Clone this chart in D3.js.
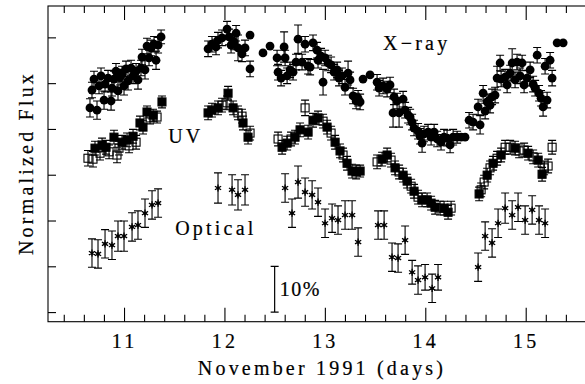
<!DOCTYPE html>
<html>
<head>
<meta charset="utf-8">
<script src="https://cdn.jsdelivr.net/npm/d3@7"></script>
<style>
  html, body { margin: 0; padding: 0; background: #fff; }
  svg { display: block; }
  text { font-family: "Liberation Serif", "DejaVu Serif", serif; fill: #000; }
</style>
</head>
<body>
<svg id="chart" width="585" height="384"></svg>
<script>
// X-ray light curve: [day, normalized flux, 1-sigma error] (error 0 = no bar)
const xray = [
  [10.661,1.146,0.020],[10.681,1.185,0.017],[10.701,1.209,0.017],[10.731,1.141,0.020],
  [10.751,1.194,0.017],[10.771,1.216,0.017],[10.801,1.163,0.020],[10.811,1.198,0.017],
  [10.841,1.211,0.017],[10.871,1.161,0.020],[10.880,1.189,0.017],[10.900,1.209,0.017],
  [10.920,1.226,0.017],[10.940,1.183,0.020],[10.960,1.213,0.017],[10.980,1.220,0.017],
  [11.000,1.194,0.020],[11.020,1.231,0.017],[11.040,1.205,0.020],[11.070,1.233,0.017],
  [11.090,1.216,0.017],[11.120,1.226,0.017],[11.139,1.207,0.020],[11.169,1.233,0.017],
  [11.179,1.257,0.017],[11.209,1.229,0.020],[11.229,1.281,0.017],[11.249,1.255,0.017],
  [11.269,1.277,0.017],[11.299,1.285,0.017],[11.319,1.250,0.020],[11.339,1.283,0.017],
  [11.369,1.301,0.015],
  [11.837,1.275,0.017],[11.876,1.285,0.017],[11.916,1.279,0.017],[11.936,1.294,0.017],
  [11.976,1.299,0.017],[12.026,1.318,0.017],[12.046,1.301,0.017],[12.066,1.283,0.017],
  [12.096,1.290,0.017],[12.116,1.309,0.017],[12.135,1.277,0.028],[12.175,1.264,0.017],
  [12.205,1.277,0.017],[12.255,1.305,0],[12.255,1.231,0.017],[12.384,1.266,0],[12.454,1.281,0],
  [12.524,1.255,0.017],[12.534,1.224,0.017],[12.564,1.211,0.017],[12.594,1.279,0.033],
  [12.604,1.255,0.017],[12.624,1.216,0.017],[12.653,1.229,0.017],[12.683,1.224,0.017],
  [12.713,1.246,0.017],[12.733,1.296,0.031],[12.773,1.246,0.017],[12.803,1.285,0.017],
  [12.833,1.237,0.017],[12.853,1.235,0.017],[12.882,1.288,0.017],[12.922,1.272,0.017],
  [12.932,1.250,0.017],[12.962,1.259,0.017],[12.982,1.202,0.028],[13.002,1.255,0.017],
  [13.032,1.244,0.017],[13.062,1.240,0.017],[13.092,1.224,0.017],[13.122,1.229,0.017],
  [13.141,1.211,0.017],[13.171,1.216,0.017],[13.201,1.191,0.017],[13.231,1.222,0.026],
  [13.251,1.207,0.017],[13.281,1.172,0.017],[13.311,1.161,0.017],[13.331,1.167,0.017],
  [13.351,1.159,0.017],[13.380,1.209,0],[13.450,1.218,0],
  [13.520,1.202,0.017],[13.540,1.189,0.017],[13.580,1.194,0.017],[13.620,1.187,0.017],
  [13.649,1.196,0.017],[13.679,1.135,0.031],[13.689,1.170,0.017],[13.719,1.161,0.017],
  [13.739,1.135,0.031],[13.779,1.165,0.017],[13.799,1.141,0.017],[13.829,1.130,0.017],
  [13.849,1.126,0.017],[13.869,1.115,0.017],[13.888,1.102,0.017],[13.928,1.095,0.017],
  [13.948,1.084,0.017],[13.968,1.069,0.020],[13.988,1.089,0.017],[14.028,1.093,0.017],
  [14.058,1.082,0.017],[14.088,1.093,0.017],[14.118,1.078,0.017],[14.157,1.071,0.017],
  [14.187,1.082,0.017],[14.217,1.080,0.017],[14.247,1.065,0.017],[14.277,1.082,0.017],
  [14.317,1.082,0.013],[14.357,1.082,0],[14.396,1.082,0],
  [14.436,1.119,0.017],[14.476,1.115,0.017],[14.526,1.148,0.017],[14.546,1.109,0.020],
  [14.576,1.178,0.017],[14.596,1.139,0.017],[14.616,1.159,0.017],[14.645,1.152,0.017],
  [14.665,1.170,0.017],[14.695,1.174,0.017],[14.715,1.211,0.026],[14.745,1.244,0.017],
  [14.755,1.209,0.017],[14.795,1.213,0.017],[14.815,1.196,0.017],[14.845,1.222,0.017],
  [14.865,1.244,0.031],[14.894,1.207,0.017],[14.914,1.246,0.017],[14.944,1.216,0.017],
  [14.964,1.244,0.017],[14.984,1.196,0.017],[15.014,1.211,0.017],[15.044,1.229,0.017],
  [15.074,1.198,0.017],[15.094,1.189,0.017],[15.114,1.261,0.017],[15.133,1.178,0.017],
  [15.153,1.167,0.017],[15.173,1.148,0.020],[15.193,1.237,0.017],[15.213,1.163,0.017],
  [15.243,1.250,0.017],[15.263,1.211,0.017],[15.313,1.288,0],[15.373,1.288,0]
];

// UV light curve: [day, normalized flux, error, filled (1) / open (0) square]
const uv = [
  [10.641,1.036,0.017,0],[10.691,1.034,0.017,0],[10.711,1.058,0.015,1],[10.761,1.047,0.015,0],
  [10.781,1.065,0.015,1],[10.821,1.060,0.015,1],[10.851,1.050,0.015,0],[10.900,1.082,0.015,1],
  [10.930,1.043,0.017,0],[10.950,1.058,0.015,0],[10.980,1.071,0.015,1],[11.030,1.076,0.015,1],
  [11.050,1.063,0.015,0],[11.090,1.084,0.015,1],[11.120,1.071,0.015,0],[11.159,1.113,0.015,1],
  [11.189,1.104,0.015,1],[11.229,1.137,0.013,1],[11.259,1.124,0.013,0],[11.289,1.130,0.013,1],
  [11.329,1.126,0.013,0],[11.378,1.159,0.013,1],
  [11.837,1.135,0.015,1],[11.876,1.141,0.015,1],[11.936,1.146,0.015,1],[11.976,1.152,0.015,0],
  [12.026,1.157,0.015,0],[12.036,1.178,0.015,1],[12.086,1.146,0.015,1],[12.135,1.135,0.015,0],
  [12.175,1.128,0.015,0],[12.185,1.113,0.015,1],[12.235,1.082,0.015,1],[12.255,1.091,0.015,0],
  [12.534,1.078,0.015,0],[12.574,1.060,0.015,1],[12.624,1.069,0.015,1],[12.663,1.078,0.015,0],
  [12.703,1.082,0.015,1],[12.753,1.098,0.015,1],[12.803,1.146,0.017,0],[12.833,1.093,0.015,1],
  [12.882,1.119,0.015,1],[12.932,1.124,0.015,1],[12.982,1.117,0.015,0],[13.022,1.104,0.015,1],
  [13.062,1.091,0.015,0],[13.102,1.071,0.015,1],[13.151,1.052,0.015,1],[13.181,1.043,0.015,0],
  [13.221,1.025,0.015,1],[13.271,1.008,0.015,1],[13.311,1.006,0.015,1],[13.351,1.008,0.013,1],
  [13.520,1.028,0.015,0],[13.570,1.034,0.015,1],[13.620,1.043,0.015,1],[13.659,1.032,0.015,0],
  [13.699,1.015,0.015,1],[13.739,1.006,0.015,0],[13.779,0.999,0.015,1],[13.819,0.986,0.015,1],
  [13.859,0.975,0.015,0],[13.888,0.964,0.015,1],[13.928,0.951,0.015,0],[13.968,0.945,0.015,1],
  [14.018,0.945,0.015,1],[14.058,0.938,0.015,1],[14.098,0.929,0.015,1],[14.147,0.927,0.015,0],
  [14.187,0.927,0.015,1],[14.227,0.918,0.015,1],[14.257,0.927,0.015,0],
  [14.536,0.958,0.015,1],[14.556,0.967,0.015,0],[14.586,0.984,0.015,0],[14.616,0.999,0.015,1],
  [14.645,1.015,0.015,0],[14.675,1.025,0.015,1],[14.715,1.036,0.015,0],[14.755,1.043,0.015,1],
  [14.795,1.060,0.015,0],[14.845,1.060,0.015,0],[14.894,1.058,0.015,1],[14.934,1.052,0.015,0],
  [14.984,1.054,0.015,0],[15.024,1.047,0.015,1],[15.074,1.039,0.015,0],[15.124,1.032,0.015,1],
  [15.163,1.001,0.015,1],[15.183,1.015,0.015,0],[15.223,1.019,0.015,0],[15.263,1.060,0.015,0]
];

// Optical light curve: [day, normalized flux, error]
const optical = [
  [10.681,0.829,0.031],[10.741,0.827,0.031],[10.811,0.849,0.031],[10.880,0.846,0.031],
  [10.940,0.866,0.033],[11.000,0.866,0.033],[11.080,0.886,0.031],[11.139,0.890,0.031],
  [11.209,0.916,0.031],[11.279,0.934,0.031],[11.339,0.938,0.031],
  [11.936,0.971,0.033],[12.076,0.967,0.033],[12.135,0.956,0.033],[12.205,0.967,0.033],
  [12.604,0.971,0.031],[12.673,0.916,0.031],[12.733,0.984,0.035],[12.803,0.962,0.031],
  [12.873,0.956,0.031],[12.932,0.940,0.031],[13.002,0.894,0.031],[13.072,0.905,0.031],
  [13.131,0.901,0.031],[13.201,0.912,0.031],[13.271,0.912,0.031],[13.331,0.853,0.031],
  [13.530,0.890,0.031],[13.590,0.890,0.031],[13.669,0.820,0.031],[13.729,0.818,0.031],
  [13.799,0.857,0.031],[13.869,0.787,0.026],[13.928,0.770,0.031],[13.998,0.776,0.028],
  [14.068,0.752,0.031],[14.127,0.776,0.028],
  [14.526,0.798,0.031],[14.596,0.866,0.031],[14.665,0.851,0.031],[14.725,0.894,0.031],
  [14.795,0.927,0.033],[14.865,0.912,0.031],[14.924,0.929,0.031],[14.994,0.901,0.031],
  [15.064,0.923,0.031],[15.133,0.901,0.031],[15.193,0.894,0.031]
];

// Axis ticks
const dayTicks = [11, 12, 13, 14, 15];
const dayTickLabels = ["11", "12", "13", "14", "15"];
const dayMinorTicks = [10.4,10.6,10.8,11.2,11.4,11.6,11.8,12.2,12.4,12.6,12.8,13.2,13.4,13.6,13.8,
                       14.2,14.4,14.6,14.8,15.2,15.4,15.6];
const fluxTicks = [0.7, 0.8, 0.9, 1.0, 1.1, 1.2, 1.3];

// Band labels placed at [day, flux]
const bandNames = ["X\u2212ray", "UV", "Optical"];
const bandLabelDay = [13.58, 11.44, 11.51];
const bandLabelFlux = [1.272, 1.069, 0.868];

// 10% scale bar
const scaleBarDay = 12.5;
const scaleBarFlux = [0.7, 0.8];
const scaleBarText = "10%";

const xTitle = "November 1991 (days)";
const yTitle = "Normalized Flux";

// ---- drawing ----
const svg = d3.select("#chart");
const FONT = '"Liberation Serif", "DejaVu Serif", serif';
const FS = 20, LS = 3.2, TSW = 0.2;

function textStyle(sel) {
  sel.attr("font-family", FONT).attr("font-size", FS)
    .attr("letter-spacing", LS)
    .attr("fill", "#000").attr("stroke", "#000").attr("stroke-width", TSW);
}

const frame = { left: 48, top: 6, right: 596, bottom: 321.7 };
const x = d3.scaleLinear().domain([10.243, 15.70]).range([frame.left, frame.right]);
const y = d3.scaleLinear().domain([0.679, 1.3685]).range([frame.bottom, frame.top]);

// frame
svg.append("rect")
  .attr("x", frame.left).attr("y", frame.top)
  .attr("width", frame.right - frame.left).attr("height", frame.bottom - frame.top)
  .attr("fill", "none").attr("stroke", "#000").attr("stroke-width", 1.1);

function styleAxis(g) {
  g.select(".domain").remove();
  g.selectAll(".tick line").attr("stroke", "#000").attr("stroke-width", 1.1);
  g.selectAll("text").call(textStyle);
}

// bottom axis: labelled integer days + minor ticks
svg.append("g").attr("transform", `translate(0,${frame.bottom})`)
  .call(d3.axisBottom(x).tickValues(dayTicks).tickSize(-14).tickPadding(12)
    .tickFormat((d, i) => dayTickLabels[i]))
  .call(styleAxis);
svg.append("g").attr("transform", `translate(0,${frame.bottom})`)
  .call(d3.axisBottom(x).tickValues(dayMinorTicks).tickSize(-7).tickFormat(""))
  .call(styleAxis);
// top axis
svg.append("g").attr("transform", `translate(0,${frame.top})`)
  .call(d3.axisTop(x).tickValues(dayTicks).tickSize(-14).tickFormat(""))
  .call(styleAxis);
svg.append("g").attr("transform", `translate(0,${frame.top})`)
  .call(d3.axisTop(x).tickValues(dayMinorTicks).tickSize(-7).tickFormat(""))
  .call(styleAxis);
// left axis (unlabelled)
svg.append("g").attr("transform", `translate(${frame.left},0)`)
  .call(d3.axisLeft(y).tickValues(fluxTicks).tickSize(-8).tickFormat(""))
  .call(styleAxis);

// axis titles
svg.append("text").call(textStyle)
  .attr("x", 322).attr("y", 375).attr("text-anchor", "middle")
  .text(xTitle);
svg.append("text").call(textStyle)
  .attr("transform", "translate(33,163) rotate(-90)").attr("text-anchor", "middle")
  .text(yTitle);

const plot = svg.append("g");
const CAP = 4;

function errorBars(data, cls) {
  const g = plot.append("g").attr("class", cls)
    .attr("stroke", "#000").attr("stroke-width", 1.1).attr("fill", "none");
  const withErr = data.filter(d => d[2] > 0);
  g.selectAll("path").data(withErr).join("path")
    .attr("d", d => {
      const cx = x(d[0]), y0 = y(d[1] - d[2]), y1 = y(d[1] + d[2]);
      return `M${cx},${y0}V${y1}M${cx - CAP},${y0}H${cx + CAP}M${cx - CAP},${y1}H${cx + CAP}`;
    });
}

errorBars(xray, "xray-err");
errorBars(uv, "uv-err");
errorBars(optical, "opt-err");

// X-ray: filled circles
plot.append("g").selectAll("circle").data(xray).join("circle")
  .attr("cx", d => x(d[0])).attr("cy", d => y(d[1])).attr("r", 4.4)
  .attr("fill", "#000");

// UV: squares, filled or open
const SQ = 8;
plot.append("g").selectAll("rect").data(uv).join("rect")
  .attr("x", d => x(d[0]) - SQ / 2).attr("y", d => y(d[1]) - SQ / 2)
  .attr("width", SQ).attr("height", SQ)
  .attr("fill", d => d[3] ? "#000" : "none")
  .attr("stroke", "#000").attr("stroke-width", 1.1);

// Optical: asterisks
const ast = 3.6;
const asteriskPath = [90, 30, 150].map(a => {
  const r = a * Math.PI / 180, dx = ast * Math.cos(r), dy = ast * Math.sin(r);
  return `M${-dx},${-dy}L${dx},${dy}`;
}).join("");
const optG = plot.append("g").selectAll("g").data(optical).join("g")
  .attr("transform", d => `translate(${x(d[0])},${y(d[1])})`);
optG.append("path").attr("d", asteriskPath).attr("stroke", "#000").attr("stroke-width", 1.3);
optG.append("circle").attr("r", 1.6).attr("fill", "#000");

// band labels
svg.append("g").selectAll("text").data(bandNames).join("text").call(textStyle)
  .attr("x", (d, i) => x(bandLabelDay[i])).attr("y", (d, i) => y(bandLabelFlux[i]))
  .text(d => d);

// 10% scale bar
const sb = svg.append("g").attr("stroke", "#000").attr("stroke-width", 1.2);
const sbx = x(scaleBarDay), sby0 = y(scaleBarFlux[0]), sby1 = y(scaleBarFlux[1]);
sb.append("path").attr("fill", "none")
  .attr("d", `M${sbx},${sby0}V${sby1}M${sbx - CAP},${sby0}H${sbx + CAP}M${sbx - CAP},${sby1}H${sbx + CAP}`);
svg.append("text").call(textStyle).attr("letter-spacing", 1.5)
  .attr("x", sbx + 5).attr("y", y((scaleBarFlux[0] + scaleBarFlux[1]) / 2) + 7)
  .text(scaleBarText);
</script>
</body>
</html>
